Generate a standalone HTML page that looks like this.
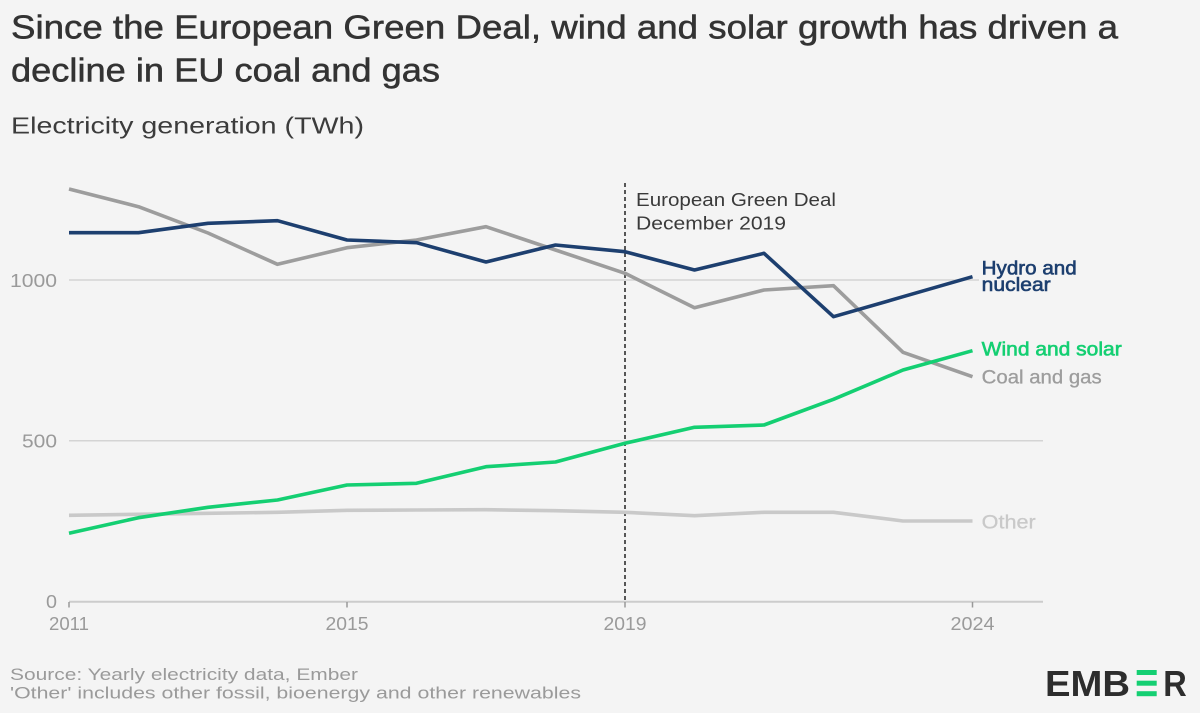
<!DOCTYPE html>
<html>
<head>
<meta charset="utf-8">
<style>
  html, body { margin: 0; padding: 0; background: #f4f4f4; }
  svg { display: block; }
  text { font-family: "Liberation Sans", "DejaVu Sans", sans-serif; }
</style>
</head>
<body>
<svg width="1200" height="713" viewBox="0 0 1200 713" xmlns="http://www.w3.org/2000/svg">
  <rect x="0" y="0" width="1200" height="713" fill="#f4f4f4"/>

  <!-- Title -->
  <text x="11" y="38.5" font-size="33" fill="#333333" stroke="#333333" stroke-width="0.5" textLength="1107" lengthAdjust="spacingAndGlyphs">Since the European Green Deal, wind and solar growth has driven a</text>
  <text x="11" y="81.7" font-size="33" fill="#333333" stroke="#333333" stroke-width="0.5" textLength="429" lengthAdjust="spacingAndGlyphs">decline in EU coal and gas</text>

  <!-- Subtitle -->
  <text x="11" y="133.3" font-size="23.5" fill="#3c3c3c" textLength="353" lengthAdjust="spacingAndGlyphs">Electricity generation (TWh)</text>

  <!-- Gridlines -->
  <line x1="69" y1="280" x2="979" y2="280" stroke="#d4d4d4" stroke-width="1.5"/>
  <line x1="69" y1="440.8" x2="1043" y2="440.8" stroke="#d4d4d4" stroke-width="1.5"/>
  <!-- Axis -->
  <line x1="69" y1="601.7" x2="1043" y2="601.7" stroke="#cccccc" stroke-width="2"/>
  <!-- Ticks -->
  <g stroke="#999999" stroke-width="1.5">
    <line x1="69" y1="602" x2="69" y2="607.5"/>
    <line x1="347" y1="602" x2="347" y2="607.5"/>
    <line x1="625" y1="602" x2="625" y2="607.5"/>
    <line x1="972.5" y1="602" x2="972.5" y2="607.5"/>
  </g>

  <!-- Y labels -->
  <g font-size="18" fill="#9a9a9a" text-anchor="end">
    <text x="57" y="287" textLength="47" lengthAdjust="spacingAndGlyphs">1000</text>
    <text x="57" y="447.5" textLength="35" lengthAdjust="spacingAndGlyphs">500</text>
    <text x="57" y="608" textLength="11" lengthAdjust="spacingAndGlyphs">0</text>
  </g>

  <!-- X labels -->
  <g font-size="18" fill="#9a9a9a" text-anchor="middle">
    <text x="69" y="630" textLength="40" lengthAdjust="spacingAndGlyphs">2011</text>
    <text x="347" y="630" textLength="43" lengthAdjust="spacingAndGlyphs">2015</text>
    <text x="625" y="630" textLength="43" lengthAdjust="spacingAndGlyphs">2019</text>
    <text x="972.5" y="630" textLength="44" lengthAdjust="spacingAndGlyphs">2024</text>
  </g>

  <!-- Dashed reference line -->
  <line x1="625" y1="183" x2="625" y2="601" stroke="#222222" stroke-width="1.5" stroke-dasharray="4,3"/>
  <text x="636" y="206" font-size="18" fill="#3a3a3a" textLength="200" lengthAdjust="spacingAndGlyphs">European Green Deal</text>
  <text x="636" y="229.5" font-size="18" fill="#3a3a3a" textLength="150" lengthAdjust="spacingAndGlyphs">December 2019</text>

  <!-- Series -->
  <g fill="none" stroke-width="3.6" stroke-linejoin="round" stroke-linecap="butt">
    <!-- Other -->
    <polyline stroke="#c9c9c9" points="69,515.3 138.5,514.3 208,513.3 277.5,512.3 347,510.3 416.5,510 486,509.7 555.5,510.7 625,512.3 694.5,515.7 764,512.3 833.5,512.3 903,521 972.5,521"/>
    <!-- Coal and gas -->
    <polyline stroke="#9d9d9d" points="69,189 138.5,206.7 208,233 277.5,264.3 347,247.7 416.5,240 486,226.7 555.5,250 625,273.3 694.5,307.7 764,290 833.5,285.7 903,352.3 972.5,376.7"/>
    <!-- Wind and solar -->
    <polyline stroke="#14cf72" points="69,533.3 138.5,517.7 208,507.3 277.5,500 347,485 416.5,483.3 486,466.7 555.5,462 625,443.3 694.5,427.3 764,425 833.5,399.3 903,370 972.5,350.7"/>
    <!-- Hydro and nuclear -->
    <polyline stroke="#1d3f6f" points="69,232.7 138.5,232.7 208,223.3 277.5,220.7 347,240 416.5,242.7 486,262 555.5,245 625,251.7 694.5,270 764,253.3 833.5,316.7 903,296.7 972.5,276.7"/>
  </g>

  <!-- Series labels -->
  <text x="981.7" y="274.3" font-size="19" fill="#1d3f6f" stroke="#1d3f6f" stroke-width="0.6" textLength="95" lengthAdjust="spacingAndGlyphs">Hydro and</text>
  <text x="981.7" y="291" font-size="19" fill="#1d3f6f" stroke="#1d3f6f" stroke-width="0.6" textLength="69" lengthAdjust="spacingAndGlyphs">nuclear</text>
  <text x="981.7" y="355.7" font-size="19" fill="#14cf72" stroke="#14cf72" stroke-width="0.6" textLength="140" lengthAdjust="spacingAndGlyphs">Wind and solar</text>
  <text x="981.7" y="383.3" font-size="19" fill="#9d9d9d" stroke="#9d9d9d" stroke-width="0.3" textLength="120" lengthAdjust="spacingAndGlyphs">Coal and gas</text>
  <text x="981.7" y="528.3" font-size="19" fill="#c9c9c9" stroke="#c9c9c9" stroke-width="0.3" textLength="54" lengthAdjust="spacingAndGlyphs">Other</text>

  <!-- Footnotes -->
  <text x="10" y="680" font-size="17" fill="#9a9a9a" textLength="348" lengthAdjust="spacingAndGlyphs">Source: Yearly electricity data, Ember</text>
  <text x="10" y="698.5" font-size="17" fill="#9a9a9a" textLength="571" lengthAdjust="spacingAndGlyphs">'Other' includes other fossil, bioenergy and other renewables</text>

  <!-- EMBER logo -->
  <text x="1045" y="696" font-size="36" font-weight="bold" fill="#2d2d2d" textLength="85" lengthAdjust="spacingAndGlyphs">EMB</text>
  <rect x="1136.7" y="670" width="20" height="5" fill="#14cf72"/>
  <rect x="1136.7" y="680.7" width="20" height="5" fill="#14cf72"/>
  <rect x="1136.7" y="691.2" width="20" height="5" fill="#14cf72"/>
  <text x="1163.3" y="696" font-size="36" font-weight="bold" fill="#2d2d2d" textLength="23.5" lengthAdjust="spacingAndGlyphs">R</text>
</svg>
</body>
</html>
